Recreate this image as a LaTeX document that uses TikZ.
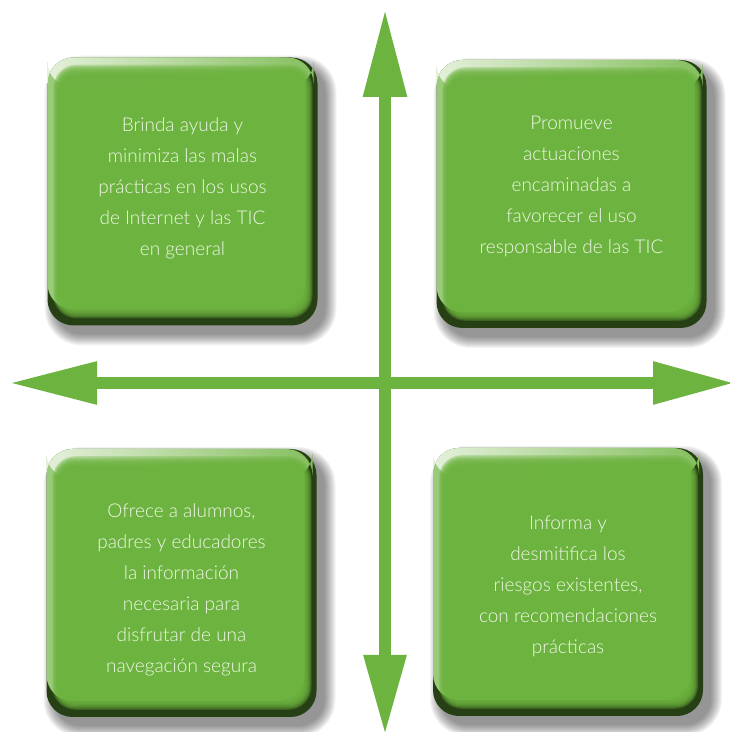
\documentclass[tikz,border=0pt]{standalone}
\usepackage{fontspec}
\newfontfamily\tarjetafont{Lato Light}
\usetikzlibrary{arrows.meta}
\definecolor{verde}{HTML}{6DB33F}
\definecolor{verdeclaro}{HTML}{9ACB7B}
\definecolor{verdeblanco}{HTML}{E4F0DA}
\definecolor{verdeoscuro}{HTML}{263F14}
\definecolor{textoverde}{HTML}{EEF7E6}
\tikzstyle{sombra}=[fill=black,opacity=0.045]
\tikzstyle{capa}=[fill=verde,opacity=0.3]
\tikzstyle{texto}=[text=textoverde,align=center,font=\tarjetafont\fontsize{19}{31}\selectfont]
\tikzstyle{flecha}=[draw=verde,line width=12pt]

% tarjeta: nombre, x, y, desplazamiento del texto, texto
\newcommand{\tarjeta}[5]{%
  \foreach \k in {0,...,11}
    \fill[sombra,rounded corners={(26+\k)*1pt}] ({#2+8-135-\k},{#3-9-134-\k}) rectangle ({#2+8+135+\k},{#3-9+134+\k});
  \fill[verdeoscuro,rounded corners=26pt] ({#2-135},{#3-134}) rectangle ({#2+135},{#3+134});
  \fill[verdeclaro,rounded corners=26pt] ({#2-135},{#3-134+16}) rectangle ({#2+135-12},{#3+134});
  \shade[rounded corners=26pt,left color=verdeblanco,right color=verde!80!verdeblanco] ({#2-135},{#3+134-30}) rectangle ({#2+135-4},{#3+134});
  \foreach \k in {1,...,10}
    \fill[capa,rounded corners={(24-\k)*1pt}] ({#2-135+5+0.8*\k},{#3-134+6+1.2*\k}) rectangle ({#2+135-4-1.0*\k},{#3+134-6-1.2*\k});
  \node[texto] (#1) at (#2,{#3+#4}) {#5};
}

\begin{document}
\begin{tikzpicture}[x=1pt, y=1pt]
	\useasboundingbox (0,0) rectangle (730,732);
	\tarjeta{ayuda}{182.5}{540.5}{3}{Brinda ayuda y\\minimiza las malas\\prácticas en los usos\\de Internet y las TIC\\en general}
	\tarjeta{uso}{571.5}{538}{8}{Promueve\\actuaciones\\encaminadas a\\favorecer el uso\\responsable de las TIC}
	\tarjeta{info}{181.5}{149}{-7}{Ofrece a alumnos,\\padres y educadores\\la información\\necesaria para\\disfrutar de una\\navegación segura}
	\tarjeta{riesgos}{568}{150}{-4}{Informa y\\desmitifica los\\riesgos existentes,\\con recomendaciones\\prácticas}
	\coordinate (izq) at (9,349);
	\coordinate (der) at (735,349);
	\coordinate (arr) at (385,723);
	\coordinate (abj) at (385,-3);
	\draw[flecha,{Triangle[length=88pt,width=40pt]}-{Triangle[length=82pt,width=40pt]}] (izq) -- (der);
	\draw[flecha,{Triangle[length=88pt,width=41pt]}-{Triangle[length=80pt,width=40pt]}] (arr) -- (abj);
\end{tikzpicture}
\end{document}
